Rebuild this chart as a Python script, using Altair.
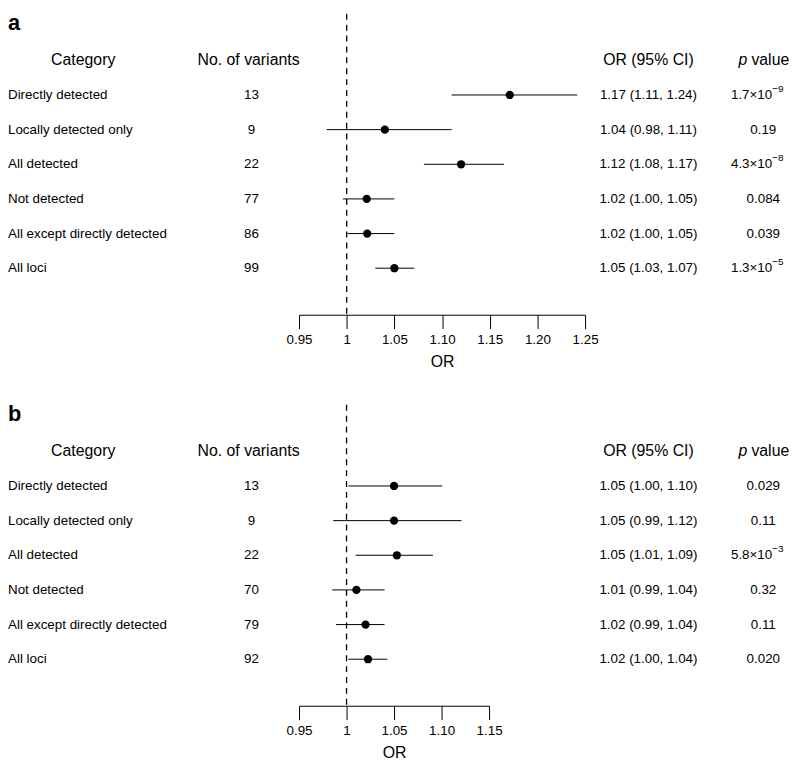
import altair as alt
import pandas as pd

FONT = "Liberation Sans"

categories = ["Directly detected", "Locally detected only", "All detected",
              "Not detected", "All except directly detected", "All loci"]

# Panel a
n_a = [13, 9, 22, 77, 86, 99]
est_a = [1.171, 1.040, 1.120, 1.021, 1.0215, 1.050]
lo_a = [1.110, 0.979, 1.081, 0.996, 1.001, 1.030]
hi_a = [1.2417, 1.110, 1.165, 1.050, 1.050, 1.071]
ci_a = ["1.17 (1.11, 1.24)", "1.04 (0.98, 1.11)", "1.12 (1.08, 1.17)",
        "1.02 (1.00, 1.05)", "1.02 (1.00, 1.05)", "1.05 (1.03, 1.07)"]
pbase_a = ["1.7×10", "0.19", "4.3×10", "0.084", "0.039", "1.3×10"]
pexp_a = ["−9", "", "−8", "", "", "−5"]
ticks_a = [0.95, 1.0, 1.05, 1.10, 1.15, 1.20, 1.25]

# Panel b
n_b = [13, 9, 22, 70, 79, 92]
est_b = [1.050, 1.050, 1.053, 1.0104, 1.020, 1.0226]
lo_b = [1.002, 0.986, 1.0096, 0.985, 0.989, 1.002]
hi_b = [1.1007, 1.121, 1.091, 1.040, 1.040, 1.043]
ci_b = ["1.05 (1.00, 1.10)", "1.05 (0.99, 1.12)", "1.05 (1.01, 1.09)",
        "1.01 (0.99, 1.04)", "1.02 (0.99, 1.04)", "1.02 (1.00, 1.04)"]
pbase_b = ["0.029", "0.11", "5.8×10", "0.32", "0.11", "0.020"]
pexp_b = ["", "", "−3", "", "", ""]
ticks_b = [0.95, 1.0, 1.05, 1.10, 1.15]

PLOT_H = 304
PLOT_W = 780


def panel(letter, n, est, lo, hi, ci, pbase, pexp, ticks, x_range):
    df = pd.DataFrame({
        "row": list(range(len(categories))), "cat": categories, "n": n,
        "est": est, "lo": lo, "hi": hi, "ci": ci,
        "pbase": pbase, "pexp": pexp,
    })
    hdr = pd.DataFrame({"row": [-1]})
    yscale = alt.Scale(domain=[-1, 5], range=[47, 257])
    y = alt.Y("row:Q", scale=yscale, axis=None)
    xscale = alt.Scale(domain=[ticks[0], ticks[-1]], range=x_range, nice=False, zero=False)
    xaxis = alt.Axis(
        values=ticks, title="OR",
        labelExpr="datum.value == 1 ? '1' : format(datum.value, '.2f')",
        tickSize=14, tickColor="black", domainColor="black", labelColor="black",
        titleColor="black", labelFont=FONT, titleFont=FONT, labelFontSize=13.5,
        titleFontSize=16, titleFontWeight="normal", labelPadding=4, titlePadding=8,
        grid=False, labelFlush=False, labelOverlap=False, domainWidth=1, tickWidth=1,
    )

    base = alt.Chart(df)
    whisk = base.mark_rule(color="black", strokeWidth=1).encode(
        x=alt.X("lo:Q", scale=xscale, axis=xaxis), x2="hi:Q", y=y)
    pts = base.mark_circle(color="black", opacity=1, size=70).encode(
        x=alt.X("est:Q"), y=y)
    ref = alt.Chart(hdr).mark_rule(color="black", strokeWidth=1.3, strokeDash=[6, 5]).encode(
        x=alt.datum(1.0), y=alt.value(0), y2=alt.value(PLOT_H))

    txt = dict(font=FONT, fontSize=13.5, color="black", baseline="middle")
    cat_t = base.mark_text(align="left", **txt).encode(x=alt.value(0), y=y, text="cat:N")
    n_t = base.mark_text(align="center", **txt).encode(x=alt.value(246), y=y, text="n:Q")
    ci_t = base.mark_text(align="center", **txt).encode(x=alt.value(647), y=y, text="ci:N")
    p_plain = base.transform_filter("datum.pexp == ''").mark_text(align="center", **txt).encode(
        x=alt.value(763), y=y, text="pbase:N")
    p_base = base.transform_filter("datum.pexp != ''").mark_text(align="right", **txt).encode(
        x=alt.value(772), y=y, text="pbase:N")
    p_exp = base.transform_filter("datum.pexp != ''").mark_text(
        align="left", font=FONT, fontSize=10, color="black", baseline="middle", dy=-6).encode(
        x=alt.value(772), y=y, text="pexp:N")

    htxt = dict(font=FONT, fontSize=16, color="black", baseline="middle")
    hb = alt.Chart(hdr)
    h1 = hb.mark_text(align="center", text="Category", **htxt).encode(x=alt.value(76), y=y)
    h2 = hb.mark_text(align="center", text="No. of variants", **htxt).encode(x=alt.value(243), y=y)
    h3 = hb.mark_text(align="center", text="OR (95% CI)", **htxt).encode(x=alt.value(647), y=y)
    h4 = hb.mark_text(align="right", text="p", fontStyle="italic", **htxt).encode(x=alt.value(747), y=y)
    h5 = hb.mark_text(align="left", text="value", **htxt).encode(x=alt.value(751), y=y)
    lab = hb.mark_text(align="left", text=letter, font=FONT, fontSize=22, fontWeight="bold",
                       color="black", baseline="middle").encode(x=alt.value(0), y=alt.value(9))

    return alt.layer(ref, whisk, pts, cat_t, n_t, ci_t, p_plain, p_base, p_exp,
                     h1, h2, h3, h4, h5, lab).properties(width=PLOT_W, height=PLOT_H)


pa = panel("a", n_a, est_a, lo_a, hi_a, ci_a, pbase_a, pexp_a, ticks_a, [294, 583])
pb = panel("b", n_b, est_b, lo_b, hi_b, ci_b, pbase_b, pexp_b, ticks_b, [294, 486])

chart = alt.vconcat(pa, pb, spacing=33).properties(padding=0).configure_view(stroke=None)

chart.save("out.html", embed_options={"renderer": "svg", "actions": False})
